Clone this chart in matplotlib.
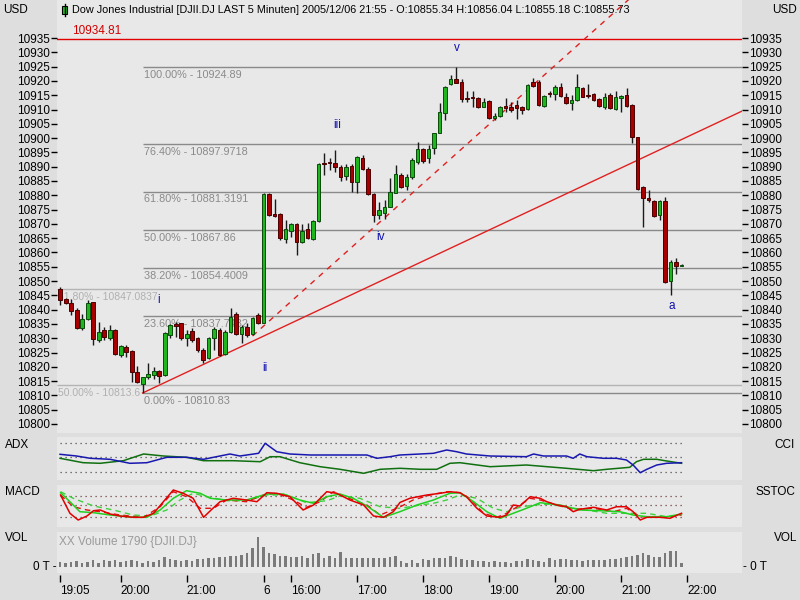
import matplotlib
matplotlib.use("Agg")
import matplotlib.pyplot as plt
from matplotlib.patches import Rectangle
import numpy as np

# ---- price data (5 min bars, index 0 = 19:05 on Dec 5) ----
opens = [10847.1, 10843.6, 10842.4, 10839.9, 10833.5, 10836.6, 10842.6, 10829.4, 10832.9, 10830.0,
         10832.9, 10824.1, 10827.0, 10825.6, 10818.3, 10814.0, 10816.3, 10817.1, 10818.5, 10817.1,
         10831.1, 10835.0, 10835.2, 10830.0, 10832.6, 10830.0, 10825.9, 10823.0, 10830.0, 10832.9,
         10824.5, 10832.3, 10838.4, 10831.5, 10834.0, 10831.5, 10838.1, 10835.4, 10880.4, 10873.4,
         10873.3, 10864.6, 10867.6, 10869.8, 10863.5, 10868.1, 10864.6, 10871.1, 10891.2, 10891.5,
         10891.2, 10889.8, 10886.7, 10890.2, 10884.8, 10892.9, 10889.3, 10880.5, 10873.1, 10873.9,
         10876.0, 10880.9, 10887.1, 10883.3, 10886.3, 10891.8, 10896.1, 10892.9, 10896.4, 10901.9,
         10908.9, 10918.8, 10920.6, 10919.7, 10913.9, 10914.3, 10913.9, 10911.0, 10913.1, 10906.9,
         10907.7, 10911.2, 10910.8, 10911.6, 10911.0, 10910.1, 10919.7, 10919.7, 10911.2, 10915.7,
         10915.4, 10918.0, 10914.3, 10912.2, 10913.3, 10917.4, 10915.1, 10915.4, 10913.6, 10911.0,
         10915.1, 10910.1, 10913.9, 10915.1, 10911.6, 10900.3, 10882.8, 10878.9, 10878.1, 10873.1,
         10878.1, 10850.1, 10856.8, 10855.34]
highs = [10848.0, 10844.0, 10843.6, 10840.5, 10838.4, 10843.4, 10842.8, 10835.8, 10834.0, 10834.6,
         10833.1, 10827.6, 10827.6, 10825.9, 10820.3, 10816.5, 10821.5, 10819.8, 10818.9, 10832.3,
         10835.0, 10835.8, 10835.4, 10832.9, 10833.5, 10830.5, 10826.5, 10830.5, 10834.0, 10833.5,
         10832.9, 10840.4, 10839.0, 10834.6, 10835.2, 10837.5, 10838.7, 10880.7, 10880.9, 10878.6,
         10873.7, 10871.4, 10870.4, 10870.2, 10869.8, 10870.2, 10871.4, 10891.2, 10894.9, 10892.9,
         10895.8, 10890.6, 10890.9, 10890.9, 10893.7, 10894.1, 10889.8, 10880.7, 10877.8, 10878.3,
         10885.9, 10890.6, 10887.7, 10887.4, 10892.9, 10898.8, 10896.4, 10897.6, 10901.9, 10912.2,
         10918.2, 10922.1, 10924.89, 10920.6, 10916.3, 10916.3, 10914.3, 10913.9, 10913.3, 10908.7,
         10911.2, 10913.9, 10912.7, 10913.3, 10911.2, 10918.9, 10920.9, 10920.3, 10915.1, 10916.3,
         10918.6, 10919.2, 10915.7, 10915.1, 10922.4, 10918.0, 10918.9, 10915.7, 10913.9, 10915.7,
         10915.7, 10916.6, 10915.1, 10917.4, 10911.9, 10900.5, 10883.2, 10881.8, 10878.3, 10878.3,
         10879.3, 10857.4, 10857.9, 10856.04]
lows = [10841.6, 10842.0, 10838.1, 10833.2, 10832.9, 10836.4, 10827.6, 10828.8, 10829.4, 10829.4,
        10824.1, 10823.5, 10823.5, 10814.8, 10814.5, 10810.83, 10815.6, 10815.6, 10814.5, 10816.8,
        10830.0, 10830.5, 10829.4, 10827.3, 10828.8, 10825.3, 10821.2, 10822.6, 10825.9, 10823.8,
        10824.1, 10831.7, 10831.1, 10828.2, 10830.5, 10831.1, 10834.9, 10835.2, 10872.7, 10872.5,
        10864.4, 10863.4, 10865.5, 10859.1, 10863.2, 10864.6, 10864.4, 10870.8, 10887.1, 10888.8,
        10888.3, 10885.1, 10885.3, 10881.3, 10880.9, 10888.8, 10880.1, 10870.8, 10871.6, 10871.6,
        10875.8, 10880.7, 10882.4, 10881.9, 10885.6, 10890.9, 10891.2, 10891.2, 10894.4, 10901.7,
        10906.3, 10918.6, 10919.2, 10912.7, 10912.7, 10911.0, 10910.4, 10910.8, 10906.6, 10906.3,
        10907.3, 10909.3, 10909.3, 10906.6, 10908.4, 10909.8, 10918.0, 10911.2, 10911.0, 10914.3,
        10913.3, 10914.3, 10911.9, 10909.8, 10913.1, 10914.3, 10913.9, 10913.1, 10910.8, 10910.1,
        10910.1, 10909.8, 10909.3, 10911.0, 10898.4, 10881.8, 10869.0, 10877.8, 10872.5, 10871.3,
        10849.4, 10845.1, 10852.5, 10855.18]
closes = [10843.4, 10842.2, 10839.6, 10833.5, 10836.6, 10842.4, 10829.6, 10832.3, 10830.3, 10832.9,
          10824.5, 10827.3, 10825.3, 10818.3, 10814.8, 10816.3, 10817.5, 10818.5, 10816.8, 10831.9,
          10834.6, 10834.3, 10830.0, 10831.5, 10829.4, 10825.9, 10822.4, 10830.0, 10833.1, 10824.1,
          10832.3, 10837.5, 10831.5, 10833.8, 10831.1, 10837.0, 10835.2, 10880.3, 10873.1, 10872.7,
          10864.9, 10868.1, 10869.8, 10863.8, 10867.5, 10864.9, 10871.0, 10890.9, 10890.9, 10891.2,
          10890.0, 10886.3, 10890.0, 10884.8, 10893.3, 10889.1, 10880.5, 10873.1, 10874.9, 10876.0,
          10881.3, 10887.4, 10883.0, 10886.5, 10892.3, 10896.1, 10892.1, 10896.1, 10901.7, 10909.2,
          10918.0, 10920.6, 10919.4, 10913.6, 10913.6, 10913.9, 10911.0, 10912.7, 10906.9, 10907.7,
          10910.8, 10910.6, 10909.8, 10910.4, 10909.8, 10918.6, 10918.2, 10911.6, 10914.7, 10915.3,
          10918.0, 10914.7, 10912.2, 10913.3, 10917.8, 10914.5, 10914.7, 10913.3, 10911.2, 10914.5,
          10910.4, 10914.5, 10914.7, 10911.2, 10900.5, 10882.1, 10878.9, 10878.3, 10872.8, 10878.1,
          10849.8, 10856.8, 10855.3, 10855.73]

volumes = [2520, 2020, 2520, 2850, 2020, 2520, 3350, 2020, 3350, 2850,
           3350, 2520, 2850, 3350, 2850, 2020, 2850, 2520, 3350, 4680,
           3850, 3350, 2850, 3350, 2850, 3850, 3850, 4350, 4350, 5020,
           5020, 5520, 5520, 5850, 6680, 9180, 15000, 10000, 6680, 6180,
           5520, 5520, 5020, 5020, 5520, 4180, 6350, 7020, 4180, 5520,
           4180, 7180, 4180, 4180, 4180, 4180, 4180, 4180, 4180, 4520,
           5020, 5520, 3020, 2020, 3350, 2020, 3680, 3350, 4520, 4520,
           4520, 5350, 5020, 3680, 3350, 3350, 2850, 2850, 2520, 2850,
           2520, 2520, 2020, 2850, 2850, 3680, 3350, 2850, 2520, 4180,
           3350, 3680, 3680, 3350, 3350, 2850, 3350, 3350, 3350, 3350,
           3680, 3680, 4180, 4680, 5520, 5850, 6680, 5850, 5020, 5020,
           6680, 8020, 8020, 1790]

# time axis labels (bar index, text)
time_ticks = [0, 11, 23, 37, 42, 54, 66, 78, 90, 102, 114]
time_labels = ["19:05", "20:00", "21:00", "6", "16:00", "17:00", "18:00", "19:00", "20:00", "21:00", "22:00"]

# fibonacci retracement (low 10810.83 -> high 10924.89)
fib_levels = [10924.89, 10897.9718, 10881.3191, 10867.86, 10854.4009, 10837.7482, 10810.83]
fib_labels = ["100.00% - 10924.89", "76.40% - 10897.9718", "61.80% - 10881.3191", "50.00% - 10867.86",
              "38.20% - 10854.4009", "23.60% - 10837.7482", "0.00% - 10810.83"]
old_fib_levels = [10847.0837, 10813.6]
old_fib_labels = ["61.80% - 10847.0837", "50.00% - 10813.6"]
resistance = 10934.81

# trend lines (bar index, price)
trend_x = [15, 30]
trend_y = [10810.83, 10824.4]
dash_x = [35, 104]
dash_y = [10830.8, 10949.5]

# elliott wave labels
wave_text = ["i", "ii", "iii", "iv", "v", "a"]
wave_x = [18.0, 37.3, 50.4, 58.2, 72.2, 111.3]
wave_y = [10843.4, 10819.6, 10904.6, 10865.4, 10931.5, 10841.3]

# ADX panel lines (bar index, value)
adx_blue_i = [0, 3.0, 5.5, 9.1, 12.7, 15.8, 19.4, 23.0, 26.1, 27.9, 30.9, 32.7, 36.1, 37.3, 39.4, 41.8,
              45.5, 49.7, 55.8, 57.6, 60.0, 61.8, 65.5, 67.9, 70.3, 72.1, 73.9, 78.2, 84.8, 86.1, 87.9,
              92.1, 93.3, 94.5, 95.8, 98.8, 101.2, 103.0, 104.2, 105.5, 106.7, 108.5, 110.3, 113.0]
adx_blue_v = [25.7, 24.0, 21.7, 20.7, 16.7, 17.3, 22.7, 22.7, 20.7, 22.7, 26.0, 24.0, 26.7, 36.7, 28.3, 26.0,
              25.0, 25.0, 25.0, 21.7, 23.3, 25.0, 26.0, 26.7, 30.0, 28.3, 26.0, 24.0, 23.3, 26.0, 24.0,
              24.0, 21.7, 26.0, 23.3, 21.7, 21.7, 20.0, 15.0, 7.3, 10.7, 15.0, 16.7, 17.3]
adx_green_i = [0, 4.2, 7.3, 11.5, 15.2, 18.8, 23.0, 26.1, 31.5, 36.4, 38.2, 40.0, 43.6, 47.3, 50.9, 55.2,
               58.2, 61.8, 65.5, 68.5, 70.9, 72.7, 78.2, 84.8, 92.1, 97.0, 99.4, 103.6, 104.8, 106.1,
               108.5, 110.3, 113.0]
adx_green_v = [21.7, 17.3, 16.7, 19.3, 26.0, 24.0, 22.7, 19.3, 19.3, 18.3, 23.3, 23.3, 17.3, 13.3, 10.7, 6.7,
               10.7, 11.7, 10.7, 10.7, 16.7, 17.3, 13.3, 15.0, 11.7, 9.3, 10.7, 12.7, 18.3, 20.7,
               20.7, 19.0, 16.7]
adx_levels = [36.7, 23.3, 8.3]

# MACD / SSTOC panel lines (bar index, value)
red_i = [0.1, 1.8, 3.3, 4.9, 6.1, 7.3, 9.1, 10.9, 13.3, 15.2, 17.0, 18.8, 20.6, 22.4, 24.2, 26.1, 27.6,
         29.1, 31.5, 33.9, 35.8, 37.6, 39.4, 41.8, 44.2, 46.1, 48.5, 50.3, 52.7, 55.2, 57.0, 58.8, 60.6,
         61.8, 63.6, 66.7, 69.1, 70.9, 72.7, 73.9, 75.8, 77.6, 80.0, 81.2, 82.4, 83.6, 85.5, 87.3, 88.5,
         90.3, 92.1, 93.3, 94.5, 97.0, 99.4, 101.2, 103.0, 104.2, 105.5, 106.7, 109.1, 110.9, 113.0]
red_v = [32.0, 13.7, 7.0, 11.0, 16.3, 17.0, 13.0, 11.0, 9.7, 9.7, 13.7, 25.3, 37.0, 33.7, 28.7, 9.7, 17.7,
         25.3, 28.7, 27.0, 25.3, 34.3, 33.7, 30.3, 17.0, 22.0, 35.3, 33.7, 27.0, 22.0, 11.0, 9.7, 15.3,
         24.5, 28.7, 32.0, 33.7, 35.3, 34.3, 30.3, 18.7, 11.0, 9.7, 12.0, 22.0, 21.0, 30.3, 28.7, 25.3,
         22.0, 20.3, 15.3, 17.7, 19.7, 17.0, 20.3, 20.3, 15.3, 7.0, 9.7, 9.7, 8.7, 13.7]
red_dash_i = [0.1, 2.4, 4.9, 7.3, 10.9, 15.2, 18.2, 20.6, 23.0, 25.5, 27.9, 30.3, 33.9, 37.0, 39.4, 42.4,
              44.8, 47.3, 49.7, 53.3, 55.8, 58.2, 61.8, 64.2, 67.3, 70.3, 72.7, 74.5, 77.0, 79.4, 81.2,
              83.0, 85.5, 87.3, 90.3, 93.3, 97.0, 100.6, 103.0, 105.5, 107.9, 110.3, 113.0]
red_dash_v = [32.0, 20.3, 17.0, 15.3, 12.0, 9.7, 20.3, 35.3, 30.3, 18.7, 18.7, 27.0, 25.3, 32.0, 33.7, 27.0,
              19.7, 25.3, 35.3, 27.0, 22.0, 12.0, 20.0, 27.0, 32.0, 35.3, 34.3, 28.7, 13.7, 9.7, 13.7,
              19.7, 28.7, 27.0, 22.0, 17.7, 18.7, 15.3, 18.7, 10.3, 9.7, 9.7, 12.0]
green_i = [0.1, 1.8, 3.6, 6.1, 9.1, 13.3, 15.8, 18.2, 20.6, 23.0, 25.5, 27.3, 30.3, 33.9, 37.6, 40.6, 43.6,
           46.1, 48.5, 50.9, 53.3, 55.8, 58.8, 61.8, 64.9, 67.9, 70.9, 72.7, 75.2, 77.6, 80.0, 82.4, 84.8,
           87.3, 90.9, 94.5, 98.2, 101.8, 104.2, 106.7, 110.3, 113.0]
green_v = [34.3, 25.3, 15.3, 14.3, 12.0, 9.7, 9.7, 17.0, 28.7, 36.3, 33.7, 28.7, 27.0, 27.0, 33.0, 33.0, 27.0,
           23.7, 30.3, 33.0, 28.7, 21.0, 9.7, 15.3, 22.0, 27.0, 33.7, 34.3, 25.3, 15.3, 8.7, 13.7, 18.7,
           24.3, 22.0, 17.0, 16.3, 15.3, 12.0, 10.3, 10.3, 13.0]
green_dash_i = [0.1, 2.4, 6.1, 9.7, 13.3, 16.4, 19.4, 21.8, 24.2, 26.7, 30.3, 33.9, 37.6, 41.2, 44.8, 48.5,
                50.9, 54.5, 58.2, 61.8, 65.5, 67.9, 70.3, 72.7, 75.8, 78.8, 81.2, 83.6, 86.1, 89.1, 92.1,
                95.8, 99.4, 103.0, 106.7, 110.3, 113.0]
green_dash_v = [35.3, 28.7, 21.0, 17.0, 12.0, 11.0, 17.0, 27.0, 33.7, 30.3, 26.3, 26.3, 32.0, 32.0, 24.3, 26.3,
                31.0, 28.7, 20.3, 18.7, 22.0, 23.7, 27.0, 32.0, 28.7, 18.7, 15.3, 19.7, 22.0, 23.0, 19.7,
                17.0, 13.7, 13.7, 13.7, 10.3, 12.0]
macd_levels = [31.0, 22.0, 10.3]

FIG_BG = "#dedede"
PANEL_BG = "#e8e8e8"
plt.rcParams["font.family"] = ["Liberation Sans", "DejaVu Sans"]

W, H = 800, 600


def box(x0, y0, x1, y1):
    # pixel box -> figure fraction rect
    return [x0 / W, 1 - y1 / H, (x1 - x0) / W, (y1 - y0) / H]


def clean(ax):
    for s in ax.spines.values():
        s.set_visible(False)
    ax.set_facecolor(PANEL_BG)


fig = plt.figure(figsize=(8, 6), dpi=100, facecolor=FIG_BG)

idx = np.arange(len(opens))
o = np.array(opens)
c = np.array(closes)
hi = np.array(highs)
lo = np.array(lows)
XLIM = (-0.55, 124.0)

# ---------------- main price panel ----------------
# the panel runs up under the title row; y=424px <-> 10800, 2.859 px per point
ax = fig.add_axes(box(57, 0, 742, 433))
clean(ax)
ax.set_xlim(*XLIM)
ax.set_ylim(10796.85, 10948.3)

ax.axhline(resistance, color="#e00000", lw=1, zorder=2)
ax.annotate(f"{resistance:.2f}", (2.2, resistance), xytext=(0, 1), textcoords="offset points",
            color="#d00000", fontsize=8.5, va="bottom")

ax.hlines(old_fib_levels, XLIM[0], XLIM[1], color="#b4b4b4", lw=1, zorder=1)
for lev, lab in zip(old_fib_levels, old_fib_labels):
    ax.annotate(lab, (XLIM[0], lev), xytext=(1, -2), textcoords="offset points",
                color="#b0b0b0", fontsize=7.5, va="top", zorder=1)

ax.hlines(fib_levels, 15, XLIM[1], color="#8a8a8a", lw=1, zorder=1)
for lev, lab in zip(fib_levels, fib_labels):
    ax.annotate(lab, (15, lev), xytext=(1, -2), textcoords="offset points",
                color="#8a8a8a", fontsize=7.8, va="top", zorder=1)

# trend lines
slope = (trend_y[1] - trend_y[0]) / (trend_x[1] - trend_x[0])
ax.plot([trend_x[0], XLIM[1]], [trend_y[0], trend_y[0] + slope * (XLIM[1] - trend_x[0])],
        color="#e02020", lw=1, zorder=3)
ax.plot(dash_x, dash_y, color="#e02020", lw=1, ls=(0, (4, 4)), zorder=3)

# candles
up = c >= o
ax.vlines(idx, lo, hi, color="#1a1a1a", lw=1, zorder=4)
body_low = np.minimum(o, c)
body_h = np.maximum(np.abs(c - o), 0.4)
ax.bar(idx[up], body_h[up], bottom=body_low[up], width=0.72, color="#1fb51f",
       edgecolor="#0a4a0a", lw=0.7, zorder=5)
ax.bar(idx[~up], body_h[~up], bottom=body_low[~up], width=0.72, color="#a80000",
       edgecolor="#4a0000", lw=0.7, zorder=5)

for t, x, y in zip(wave_text, wave_x, wave_y):
    ax.text(x, y, t, color="#1010b0", fontsize=8.5, ha="center", va="center", zorder=6)

ax.set_xticks([])
ax.set_yticks(np.arange(10800, 10936, 5))
ax.tick_params(axis="y", left=True, right=True, labelleft=True, labelright=True,
               direction="out", length=4, width=1, pad=1, labelsize=8.5, colors="black")

# ---------------- ADX / CCI ----------------
ax1 = fig.add_axes(box(57, 437, 742, 480))
clean(ax1)
ax1.set_xlim(*XLIM)
ax1.set_ylim(0, 43)
ax1.hlines(adx_levels, 0, 113, color="#505050", lw=0.9, ls=(0, (1, 3)))
ax1.plot(adx_green_i, adx_green_v, color="#107010", lw=1.1)
ax1.plot(adx_blue_i, adx_blue_v, color="#1818b0", lw=1.1)
ax1.set_xticks([])
ax1.set_yticks([])

# ---------------- MACD / SSTOC ----------------
ax2 = fig.add_axes(box(57, 485, 742, 527))
clean(ax2)
ax2.set_xlim(*XLIM)
ax2.set_ylim(0, 42)
ax2.hlines(macd_levels, 0, 113, color="#704040", lw=0.9, ls=(0, (1, 3)))
ax2.plot(green_dash_i, green_dash_v, color="#40d040", lw=1, ls=(0, (4, 3)))
ax2.plot(red_dash_i, red_dash_v, color="#e01010", lw=1, ls=(0, (4, 3)))
ax2.plot(green_i, green_v, color="#20d020", lw=1.1)
ax2.plot(red_i, red_v, color="#e00000", lw=1.1)
ax2.set_xticks([])
ax2.set_yticks([])

# ---------------- volume ----------------
ax3 = fig.add_axes(box(57, 532, 742, 573))
clean(ax3)
ax3.set_xlim(*XLIM)
ax3.set_ylim(-3150, 17350)
ax3.bar(idx, volumes, width=0.42, color="#7a7a7a", zorder=3)
ax3.text(0.003, 0.9, "XX Volume 1790 {DJII.DJ}", transform=ax3.transAxes, color="#9a9a9a",
         fontsize=8.5, va="top")
ax3.set_xticks([])
ax3.set_yticks([])

# ---------------- time axis ----------------
axt = fig.add_axes(box(57, 575, 742, 582))
axt.set_frame_on(False)
axt.set_xlim(*XLIM)
axt.set_yticks([])
axt.set_xticks(time_ticks)
axt.set_xticklabels(time_labels, ha="left")
axt.tick_params(axis="x", direction="in", length=5, width=1, pad=2, labelsize=8.5)

# ---------------- side labels ----------------
def ftext(x, y, s, size=8.5, **kw):
    fig.text(x / W, 1 - y / H, s, va="center", fontsize=size, **kw)

ftext(3, 10, "USD")
ftext(797, 10, "USD", ha="right")
ftext(5, 445, "ADX")
ftext(795, 445, "CCI", ha="right")
ftext(5, 492, "MACD")
ftext(795, 492, "SSTOC", ha="right")
ftext(5, 538, "VOL")
ftext(797, 538, "VOL", ha="right")
ftext(57, 567, "0 T -", ha="right")
ftext(743, 567, "- 0 T", ha="left")

# title with small candle icon
fig.add_artist(plt.Line2D([64.5 / W, 64.5 / W], [1 - 4 / H, 1 - 16 / H], color="black", lw=1))
fig.add_artist(Rectangle((62 / W, 1 - 14 / H), 5 / W, 8 / H, facecolor="#20c020",
                         edgecolor="black", lw=0.8))
ftext(72, 10, "Dow Jones Industrial [DJII.DJ LAST 5 Minuten] 2005/12/06 21:55 - "
              "O:10855.34 H:10856.04 L:10855.18 C:10855.73", size=7.8)

fig.savefig("out.png", dpi=100, facecolor=FIG_BG)
